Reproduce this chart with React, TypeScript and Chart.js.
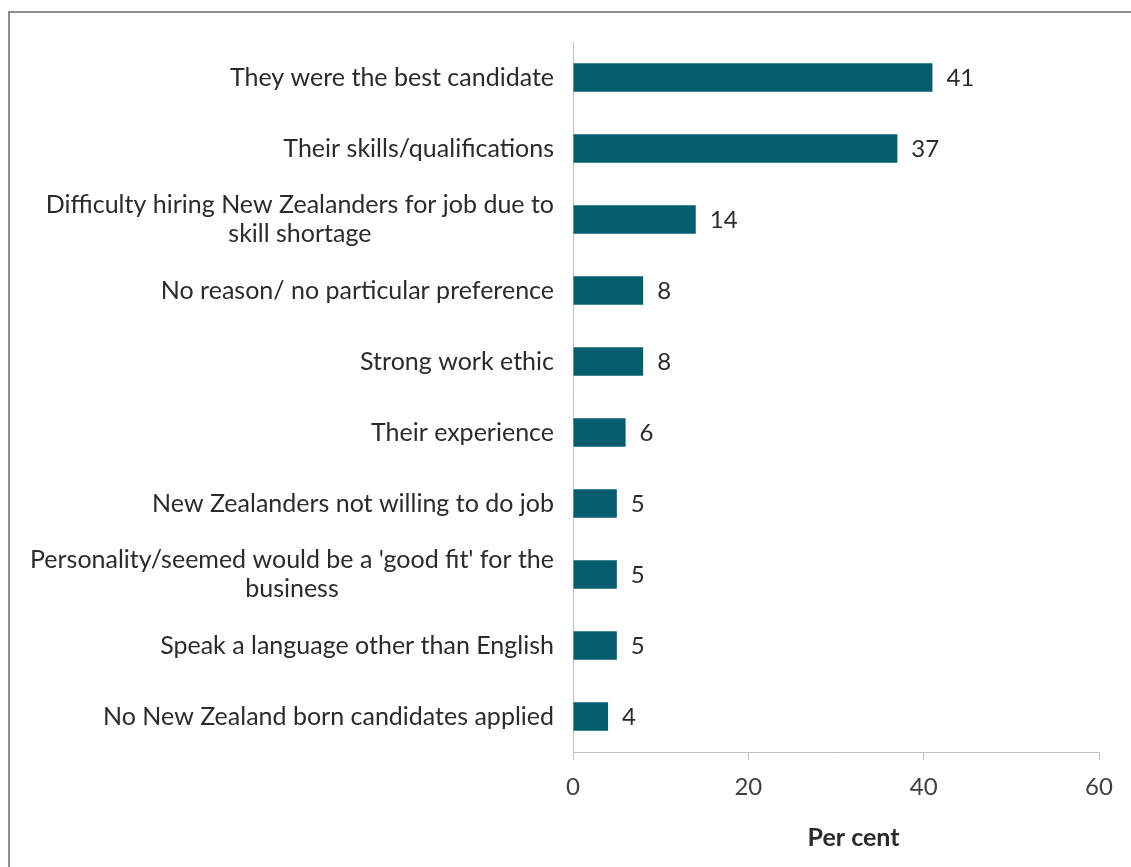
import React, { useEffect, useRef } from "react";
import { Chart, registerables } from "chart.js";

Chart.register(...registerables);

const categories: string[][] = [
  ["They were the best candidate"],
  ["Their skills/qualifications"],
  ["Difficulty hiring New Zealanders for job due to", "skill shortage"],
  ["No reason/ no particular preference"],
  ["Strong work ethic"],
  ["Their experience"],
  ["New Zealanders not willing to do job"],
  ["Personality/seemed would be a 'good fit' for the", "business"],
  ["Speak a language other than English"],
  ["No New Zealand born candidates applied"],
];
const values: number[] = [41, 37, 14, 8, 8, 6, 5, 5, 5, 4];
const xTicks: number[] = [0, 20, 40, 60];
const axisTitle = "Per cent";

const FONT = "Lato";
const LABEL_SIZE = 25;
const NUM_SIZE = 24;
const TEXT = "#2b2b2b";
const BAR = "#055e6f";

const labelsPlugin = {
  id: "customLabels",
  afterDraw(chart: any) {
    const ctx = chart.ctx;
    const y = chart.scales.y;
    const x = chart.scales.x;
    const meta = chart.getDatasetMeta(0);
    ctx.save();
    ctx.font = `${LABEL_SIZE}px ${FONT}`;
    ctx.fillStyle = TEXT;
    ctx.textBaseline = "middle";
    const lh = 29;
    categories.forEach((lines, i) => {
      const cy = y.getPixelForTick(i);
      const widths = lines.map((l) => ctx.measureText(l).width);
      const maxW = Math.max(...widths);
      const right = x.left - 19;
      const cx = right - maxW / 2;
      ctx.textAlign = "center";
      lines.forEach((l, j) => {
        const ly = cy + (j - (lines.length - 1) / 2) * lh;
        ctx.fillText(l, cx, ly);
      });
    });
    ctx.font = `${NUM_SIZE}px ${FONT}`;
    ctx.textAlign = "left";
    meta.data.forEach((bar: any, i: number) => {
      ctx.fillText(String(values[i]), bar.x + 14, bar.y + 1);
    });
    // axis title
    ctx.font = `bold ${LABEL_SIZE}px ${FONT}`;
    ctx.textAlign = "center";
    ctx.fillText(axisTitle, x.getPixelForValue(32), x.bottom - 29);
    ctx.restore();
  },
};

export default function App() {
  const ref = useRef<HTMLCanvasElement>(null);
  useEffect(() => {
    document.body.style.margin = "0";
    const chart = new Chart(ref.current!, {
      type: "bar",
      data: {
        labels: categories.map((c) => c.join(" ")),
        datasets: [
          {
            data: values,
            backgroundColor: BAR,
            barPercentage: 0.4,
            categoryPercentage: 1,
          },
        ],
      },
      options: {
        indexAxis: "y",
        animation: false,
        responsive: false,
        layout: { padding: { top: 42, right: 32, bottom: 0, left: 0 } },
        plugins: { legend: { display: false }, tooltip: { enabled: false } },
        scales: {
          x: {
            min: 0,
            max: 60,
            afterBuildTicks: (s: any) => {
              s.ticks = xTicks.map((v) => ({ value: v }));
            },
            afterFit: (s: any) => {
              s.height = 115;
            },
            grid: {
              display: true,
              drawOnChartArea: false,
              drawTicks: true,
              tickLength: 8,
              color: "#bfbfbf",
            },
            border: { color: "#bfbfbf", width: 1 },
            ticks: {
              padding: 13,
              color: "#404040",
              font: { family: FONT, size: NUM_SIZE },
            },
          },
          y: {
            grid: { display: false },
            border: { color: "#bfbfbf", width: 1 },
            ticks: { display: false },
            afterFit: (s: any) => {
              s.width = 573;
            },
          },
        },
      },
      plugins: [labelsPlugin],
    });
    return () => chart.destroy();
  }, []);
  return (
    <div style={{ position: "absolute", left: 0, top: 0, width: 1131, height: 867, background: "#fff", overflow: "hidden" }}>
      <div
        style={{
          position: "absolute",
          left: 8,
          top: 11,
          width: 1140,
          height: 900,
          border: "2px solid #8c8c8c",
          boxSizing: "border-box",
        }}
      />
      <canvas ref={ref} width={1131} height={867} style={{ position: "absolute", left: 0, top: 0 }} />
    </div>
  );
}
